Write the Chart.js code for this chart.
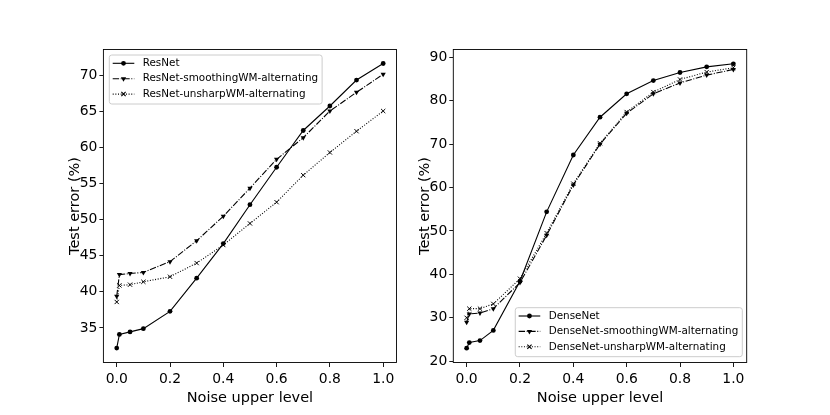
<!DOCTYPE html>
<html>
<head>
<meta charset="utf-8">
<script src="https://cdn.jsdelivr.net/npm/chart.js@4.4.0/dist/chart.umd.min.js"></script>
<style>
  body { margin: 0; background: #fff; }
  #wrap { position: relative; width: 830px; height: 415px; }
  .panel { position: absolute; top: 0; width: 415px; height: 415px; }
</style>
</head>
<body>
<div id="wrap">
  <div class="panel" style="left:0"><canvas id="resChart" width="415" height="415"></canvas></div>
  <div class="panel" style="left:415px"><canvas id="denseChart" width="415" height="415"></canvas></div>
</div>
<script>
'use strict';
// noise upper level on the x axis
const noiseLevels = [0, 0.01, 0.05, 0.1, 0.2, 0.3, 0.4, 0.5, 0.6, 0.7, 0.8, 0.9, 1.0];

// left panel: ResNet test error (%)
const resNet = [32.2, 34.1, 34.45, 34.9, 37.3, 41.9, 46.7, 52.1, 57.3, 62.4, 65.8, 69.4, 71.7];
const resNetSmoothing = [39.4, 42.4, 42.55, 42.7, 44.2, 47.1, 50.5, 54.4, 58.4, 61.4, 65.1, 67.7, 70.2];
const resNetUnsharp = [38.6, 40.9, 41.0, 41.4, 42.1, 44.0, 46.5, 49.5, 52.45, 56.2, 59.35, 62.3, 65.1];

// right panel: DenseNet test error (%)
const denseNet = [23.0, 24.3, 24.75, 27.1, 38.4, 54.4, 67.5, 76.2, 81.6, 84.65, 86.5, 87.8, 88.5];
const denseNetSmoothing = [29.0, 30.9, 31.1, 32.1, 38.1, 49.0, 60.6, 70.0, 77.1, 81.6, 84.1, 85.9, 87.2];
const denseNetUnsharp = [30.0, 32.1, 32.1, 33.2, 39.0, 49.5, 60.9, 70.2, 77.4, 82.0, 84.9, 86.6, 87.6];

const xTicks = [0, 0.2, 0.4, 0.6, 0.8, 1.0];
const xTickLabels = ['0.0', '0.2', '0.4', '0.6', '0.8', '1.0'];
const resYTicks = [35, 40, 45, 50, 55, 60, 65, 70];
const denseYTicks = [20, 30, 40, 50, 60, 70, 80, 90];

const FONT = '"DejaVu Sans", sans-serif';
Chart.defaults.font.family = FONT;
Chart.defaults.color = '#000';

function drawMarker(ctx, style, x, y, r) {
  ctx.beginPath();
  if (style === 'circle') {
    ctx.arc(x, y, r, 0, Math.PI * 2);
    ctx.fill();
  } else if (style === 'triangle') {
    // pointing down
    ctx.moveTo(x - r * 0.87, y - r * 0.5);
    ctx.lineTo(x + r * 0.87, y - r * 0.5);
    ctx.lineTo(x, y + r);
    ctx.closePath();
    ctx.fill();
  } else {
    const d = r * 0.71;
    ctx.moveTo(x - d, y - d); ctx.lineTo(x + d, y + d);
    ctx.moveTo(x + d, y - d); ctx.lineTo(x - d, y + d);
    ctx.stroke();
  }
}

// axes frame + matplotlib-like legend box
const framePlugin = {
  id: 'mplFrame',
  afterDatasetsDraw(chart, args, opts) {
    const ctx = chart.ctx;
    const a = chart.chartArea;
    ctx.save();
    ctx.strokeStyle = '#000';
    ctx.lineWidth = 0.9;
    ctx.strokeRect(a.left, a.top, a.right - a.left, a.bottom - a.top);

    ctx.font = '10.4px ' + FONT;
    const sets = chart.data.datasets;
    const textW = Math.max(...sets.map(d => ctx.measureText(d.label).width));
    const w = 33.4 + textW + 4;
    const h = 49;
    const x = opts.corner === 'tl' ? a.left + 5.9 : a.right - 4.4 - w;
    const y = opts.corner === 'tl' ? a.top + 5.5 : a.bottom - 5.8 - h;
    ctx.fillStyle = 'rgba(255,255,255,0.8)';
    ctx.strokeStyle = '#cccccc';
    ctx.lineWidth = 1;
    ctx.beginPath();
    ctx.roundRect(x, y, w, h, 2.5);
    ctx.fill();
    ctx.stroke();

    sets.forEach((d, i) => {
      const cy = y + 8.3 + i * 15.4;
      ctx.strokeStyle = '#000';
      ctx.lineWidth = d.borderWidth;
      ctx.setLineDash(d.borderDash || []);
      ctx.beginPath();
      ctx.moveTo(x + 3.4, cy);
      ctx.lineTo(x + 25, cy);
      ctx.stroke();
      ctx.setLineDash([]);
      ctx.fillStyle = '#000';
      drawMarker(ctx, d.pointStyle, x + 14.2, cy, d.pointRadius);
      ctx.textBaseline = 'middle';
      ctx.textAlign = 'left';
      ctx.fillText(d.label, x + 33.4, cy);
    });
    ctx.restore();
  }
};

function makeSeries(label, values, kind) {
  const ds = {
    label: label,
    data: noiseLevels.map((x, i) => ({x: x, y: values[i]})),
    borderColor: '#000',
    backgroundColor: '#000',
    borderWidth: 1.1,
    pointBackgroundColor: '#000',
    pointBorderColor: '#000',
    pointBorderWidth: 1,
    tension: 0
  };
  if (kind === 0) {
    ds.pointStyle = 'circle';
    ds.pointRadius = 2.4;
    ds.pointBorderWidth = 0;
  } else if (kind === 1) {
    ds.borderDash = [6.4, 1.6, 1, 1.6];
    ds.pointStyle = 'triangle';
    ds.pointRotation = 180;
    ds.pointRadius = 3;
    ds.pointBorderWidth = 0;
  } else {
    ds.borderDash = [1, 1.65];
    ds.pointStyle = 'crossRot';
    ds.pointRadius = 3;
  }
  return ds;
}

function makeChart(id, datasets, yRange, yTicks, pad, yWidth, corner) {
  const tickFont = {family: FONT, size: 13.9};
  const titleFont = {family: FONT, size: 14.5};
  new Chart(document.getElementById(id), {
    type: 'line',
    data: {datasets: datasets},
    plugins: [framePlugin],
    options: {
      responsive: false,
      animation: false,
      devicePixelRatio: 1,
      layout: {padding: pad},
      plugins: {
        legend: {display: false},
        tooltip: {enabled: false},
        mplFrame: {corner: corner}
      },
      scales: {
        x: {
          type: 'linear',
          min: -0.05,
          max: 1.05,
          afterBuildTicks: s => { s.ticks = xTicks.map(v => ({value: v})); },
          afterFit: s => { s.height = 44.2; },
          ticks: {
            font: tickFont,
            padding: 4.5,
            maxRotation: 0,
            callback: (v) => xTickLabels[xTicks.indexOf(v)]
          },
          grid: {drawOnChartArea: false, drawTicks: true, tickLength: 4.5, color: '#000', lineWidth: 0.9},
          border: {display: false},
          title: {display: true, text: 'Noise upper level', font: titleFont, padding: 0}
        },
        y: {
          type: 'linear',
          min: yRange[0],
          max: yRange[1],
          afterBuildTicks: s => { s.ticks = yTicks.map(v => ({value: v})); },
          afterFit: s => { s.width = yWidth; },
          ticks: {font: tickFont, padding: 2},
          grid: {drawOnChartArea: false, drawTicks: true, tickLength: 4, color: '#000', lineWidth: 0.9},
          border: {display: false},
          title: {display: true, text: 'Test error (%)', font: titleFont, padding: 0}
        }
      }
    }
  });
}

makeChart('resChart', [
  makeSeries('ResNet', resNet, 0),
  makeSeries('ResNet-smoothingWM-alternating', resNetSmoothing, 1),
  makeSeries('ResNet-unsharpWM-alternating', resNetUnsharp, 2)
], [30.2, 73.64], resYTicks, {left: 66.3, right: 18.5, top: 49.5, bottom: 8.3}, 37.1, 'tl');

makeChart('denseChart', [
  makeSeries('DenseNet', denseNet, 0),
  makeSeries('DenseNet-smoothingWM-alternating', denseNetSmoothing, 1),
  makeSeries('DenseNet-unsharpWM-alternating', denseNetUnsharp, 2)
], [19.7, 91.8], denseYTicks, {left: 1.3, right: 83.3, top: 49.5, bottom: 8.3}, 37.0, 'br');
</script>
</body>
</html>
